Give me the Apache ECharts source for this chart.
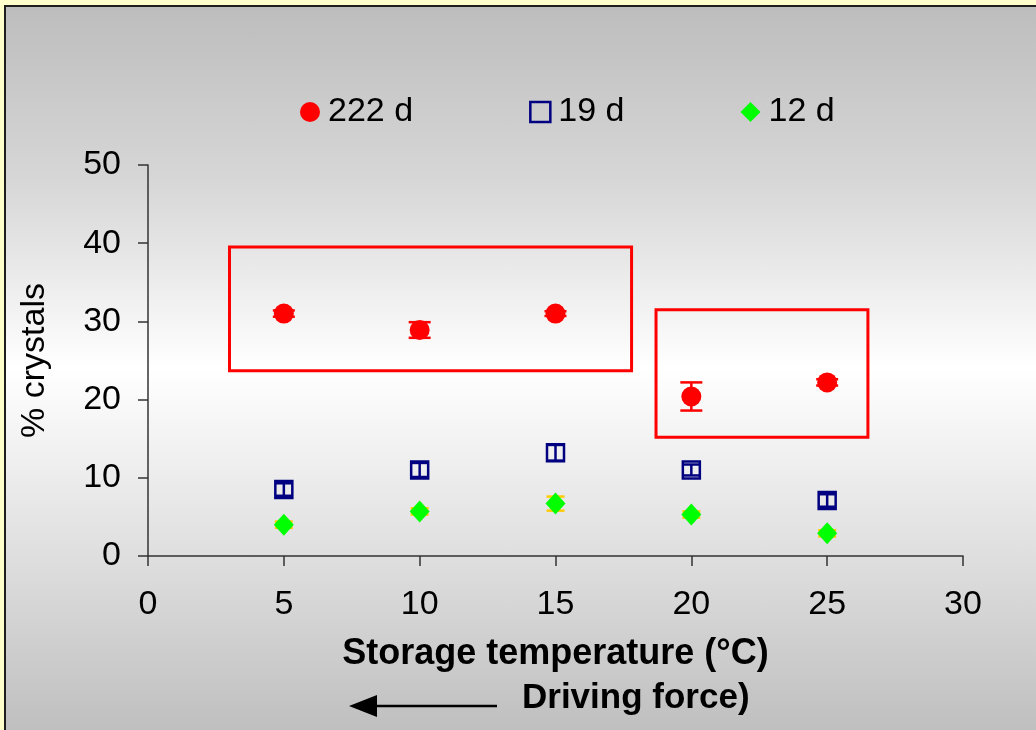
<!DOCTYPE html>
<html>
<head>
<meta charset="utf-8">
<script src="https://cdn.jsdelivr.net/npm/echarts@6/dist/echarts.min.js"></script>
<style>
  body { margin: 0; background: #ffffcc; }
  #bg {
    position: absolute; left: 4px; top: 5px; right: 0; bottom: 0;
    border-left: 2px solid #1e1e1e; border-top: 2px solid #1e1e1e;
    background: linear-gradient(to bottom, #bdbdbd 0%, #d8d8d8 25%, #ffffff 50%, #dcdcdc 78%, #bfbfbf 100%);
  }
  #chart { position: absolute; left: 0; top: 0; width: 1036px; height: 730px; }
</style>
</head>
<body>
<div id="bg"></div>
<div id="chart"></div>
<script>
// storage temperature (°C)
const temps = [5, 10, 15, 20, 25];
// % crystals after 222 d, 19 d, 12 d
const d222 = [31.0, 28.9, 31.0, 20.4, 22.2];
const d222Err = [0.4, 1.0, 0.3, 1.8, 0.4];
const d19 = [8.5, 11.0, 13.2, 11.0, 7.1];
const d19Err = [0.8, 0.9, 1.0, 0.7, 0.8];
const d12 = [4.0, 5.7, 6.7, 5.3, 2.9];
const d12Err = [0.4, 0.4, 0.9, 0.4, 0.4];
// highlighted regions [xFrom, yFrom, xTo, yTo]
const boxes = [[3, 23.7, 17.8, 39.5], [18.7, 15.2, 26.5, 31.5]];

const font = 'Liberation Sans, Arial, sans-serif';

const pts = (ys) => temps.map((t, i) => [t, ys[i]]);
const errPts = (ys, es) => temps.map((t, i) => [t, ys[i], es[i]]);

//error bar as custom series
const errorBars = (name, ys, es, color, half) => ({
    type: 'custom',
    name: name,
    z: 1,
    silent: true,
    data: errPts(ys, es),
    renderItem: (params, api) => {
        const x = api.value(0), y = api.value(1), e = api.value(2);
        const top = api.coord([x, y + e]);
        const bot = api.coord([x, y - e]);
        const style = {stroke: color, lineWidth: 2.5};
        return {
            type: 'group',
            children: [
                {type: 'line', shape: {x1: top[0], y1: top[1], x2: bot[0], y2: bot[1]}, style},
                {type: 'line', shape: {x1: top[0] - half, y1: top[1], x2: top[0] + half, y2: top[1]}, style},
                {type: 'line', shape: {x1: bot[0] - half, y1: bot[1], x2: bot[0] + half, y2: bot[1]}, style}
            ]
        };
    }
});

const chart = echarts.init(document.getElementById('chart'));
chart.setOption({
    backgroundColor: 'transparent',
    animation: false,
    textStyle: {fontFamily: font},
    grid: {left: 148, right: 73, top: 165, bottom: 174},
    legend: {
        left: 295,
        top: 90,
        itemGap: 116,
        itemWidth: 20,
        itemHeight: 20,
        textStyle: {fontSize: 34, color: '#000', fontFamily: font, padding: [0, 0, 0, 3]},
        data: [
            {name: '222 d', icon: 'circle', itemStyle: {color: '#ff0000'}},
            {name: '19 d', icon: 'path://M2,2H18V18H2Z', itemStyle: {color: 'rgba(0,0,0,0)', borderColor: '#000080', borderWidth: 2.5}},
            {name: '12 d', icon: 'diamond', itemStyle: {color: '#00ff00'}}
        ]
    },
    xAxis: {
        type: 'value',
        min: 0,
        max: 30,
        interval: 5,
        name: 'Storage temperature (°C)',
        nameLocation: 'middle',
        nameGap: 80,
        nameTextStyle: {fontSize: 36, fontWeight: 'bold', color: '#000', fontFamily: font},
        splitLine: {show: false},
        axisLine: {onZero: false, lineStyle: {color: '#333', width: 1.5}},
        axisTick: {length: 10, lineStyle: {color: '#333', width: 1.5}},
        axisLabel: {fontSize: 34, color: '#000', margin: 32}
    },
    yAxis: {
        type: 'value',
        min: 0,
        max: 50,
        interval: 10,
        name: '% crystals',
        nameLocation: 'middle',
        nameRotate: 90,
        nameGap: 96,
        nameTextStyle: {fontSize: 34, color: '#000', fontFamily: font},
        splitLine: {show: false},
        axisLine: {show: true, lineStyle: {color: '#333', width: 1.5}},
        axisTick: {show: true, length: 10, lineStyle: {color: '#333', width: 1.5}},
        axisLabel: {fontSize: 34, color: '#000', margin: 27}
    },
    graphic: [
        {
            type: 'text',
            left: 522,
            top: 681,
            style: {text: 'Driving force)', font: 'bold 35px ' + font, fill: '#000'}
        },
        {
            type: 'line',
            shape: {x1: 372, y1: 706, x2: 497, y2: 706},
            style: {stroke: '#000', lineWidth: 2.5}
        },
        {
            type: 'polygon',
            shape: {points: [[349, 706], [377, 695], [377, 717]]},
            style: {fill: '#000'}
        }
    ],
    series: [
        errorBars('222 d', d222, d222Err, '#ff0000', 11),
        errorBars('19 d', d19, d19Err, '#000080', 8),
        errorBars('12 d', d12, d12Err, '#ffcc00', 9),
        {
            type: 'scatter',
            name: '222 d',
            z: 3,
            symbol: 'circle',
            symbolSize: 20,
            itemStyle: {color: '#ff0000', opacity: 1},
            data: pts(d222),
            markArea: {
                silent: true,
                itemStyle: {color: 'rgba(0,0,0,0)', borderColor: '#ff0000', borderWidth: 3},
                data: boxes.map(b => [{coord: [b[0], b[1]]}, {coord: [b[2], b[3]]}])
            }
        },
        {
            type: 'scatter',
            name: '19 d',
            z: 3,
            symbol: 'rect',
            symbolSize: 17,
            itemStyle: {color: 'rgba(0,0,0,0)', borderColor: '#000080', borderWidth: 2.5, opacity: 1},
            data: pts(d19)
        },
        {
            type: 'scatter',
            name: '12 d',
            z: 3,
            symbol: 'diamond',
            symbolSize: [20, 22],
            itemStyle: {color: '#00ff00', opacity: 1},
            data: pts(d12)
        }
    ]
});
</script>
</body>
</html>
